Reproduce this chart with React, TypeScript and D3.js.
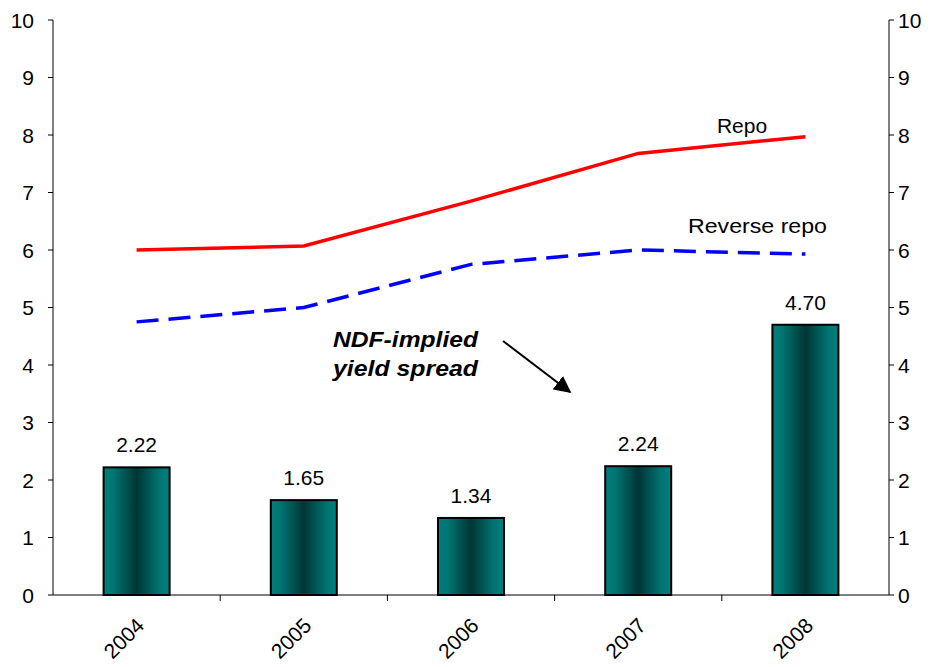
import React from "react";
import * as d3 from "d3";

const years = ["2004", "2005", "2006", "2007", "2008"];
const spread = [2.22, 1.65, 1.34, 2.24, 4.7];
const repo = [6.0, 6.07, 6.85, 7.68, 7.97];
const reverseRepo = [4.75, 5.0, 5.75, 6.0, 5.93];
const yTicks = [0, 1, 2, 3, 4, 5, 6, 7, 8, 9, 10];

const W = 933;
const H = 667;
const left = 53;
const right = 889;
const top = 20;
const bottom = 595;
const FONT = "'Liberation Sans', Arial, sans-serif";

export default function App() {
  const x = d3.scaleBand<string>().domain(years).range([left, right]).paddingInner(0).paddingOuter(0);
  const y = d3.scaleLinear().domain([0, 10]).range([bottom, top]);
  const barW = 66;
  const cx = (d: string) => (x(d) as number) + x.bandwidth() / 2;
  const line = d3
    .line<number>()
    .x((_, i) => cx(years[i]))
    .y((v) => y(v));

  return (
    <svg width={W} height={H} style={{ position: "absolute", left: 0, top: 0, background: "#fff" }}>
      <defs>
        <linearGradient id="barGrad" x1="0" x2="1" y1="0" y2="0">
          <stop offset="0%" stopColor="#007f7c" />
          <stop offset="15%" stopColor="#007572" />
          <stop offset="50%" stopColor="#003535" />
          <stop offset="85%" stopColor="#007572" />
          <stop offset="100%" stopColor="#007f7c" />
        </linearGradient>
        <marker id="arrow" viewBox="0 0 10 10" refX="9" refY="5" markerWidth="8.5" markerHeight="8.5" orient="auto">
          <path d="M0,0 L10,5 L0,10 z" fill="#000" />
        </marker>
      </defs>

      {/* left axis */}
      <line x1={left} x2={left} y1={top} y2={bottom} stroke="#000" strokeWidth={1} />
      {yTicks.map((t) => (
        <g key={"l" + t}>
          <line x1={left - 5} x2={left} y1={y(t)} y2={y(t)} stroke="#000" />
          <text x={34} y={y(t)} dy="0.36em" textAnchor="end" fontFamily={FONT} fontSize={21} fill="#000">
            {t}
          </text>
        </g>
      ))}
      {/* right axis */}
      <line x1={right} x2={right} y1={top} y2={bottom} stroke="#000" strokeWidth={1} />
      {yTicks.map((t) => (
        <g key={"r" + t}>
          <line x1={right} x2={right + 5} y1={y(t)} y2={y(t)} stroke="#000" />
          <text x={898} y={y(t)} dy="0.36em" textAnchor="start" fontFamily={FONT} fontSize={21} fill="#000">
            {t}
          </text>
        </g>
      ))}

      {/* bars */}
      {years.map((yr, i) => (
        <g key={yr}>
          <rect
            x={cx(yr) - barW / 2}
            y={y(spread[i])}
            width={barW}
            height={bottom - y(spread[i])}
            fill="url(#barGrad)"
            stroke="#000"
            strokeWidth={2}
          />
          <text
            x={cx(yr)}
            y={y(spread[i]) - 15}
            textAnchor="middle"
            fontFamily={FONT}
            fontSize={21}
            fill="#000"
          >
            {spread[i].toFixed(2)}
          </text>
        </g>
      ))}

      {/* x axis */}
      <line x1={left} x2={right} y1={bottom} y2={bottom} stroke="#000" strokeWidth={1} />
      {years.slice(1).map((yr) => (
        <line key={"t" + yr} x1={x(yr) as number} x2={x(yr) as number} y1={bottom} y2={bottom + 6} stroke="#000" />
      ))}
      {years.map((yr) => (
        <text
          key={"x" + yr}
          transform={`translate(${cx(yr) + 9},${bottom + 32}) rotate(-45)`}
          textAnchor="end"
          fontFamily={FONT}
          fontSize={21}
          fill="#000"
        >
          {yr}
        </text>
      ))}

      {/* lines */}
      <path d={line(repo) as string} fill="none" stroke="#ff0000" strokeWidth={3.5} />
      <path
        d={line(reverseRepo) as string}
        fill="none"
        stroke="#0000ff"
        strokeWidth={3.5}
        strokeDasharray="22 10"
      />

      {/* annotations */}
      <text x={742} y={133} textAnchor="middle" fontFamily={FONT} fontSize={21} fill="#000">
        Repo
      </text>
      <text x={688} y={233} textLength={139} lengthAdjust="spacingAndGlyphs" fontFamily={FONT} fontSize={21} fill="#000">
        Reverse repo
      </text>
      <text x={333} y={347} textLength={145} lengthAdjust="spacingAndGlyphs" fontFamily={FONT} fontSize={22} fontWeight="bold" fontStyle="italic" fill="#000">
        NDF-implied
      </text>
      <text x={333} y={376} textLength={145} lengthAdjust="spacingAndGlyphs" fontFamily={FONT} fontSize={22} fontWeight="bold" fontStyle="italic" fill="#000">
        yield spread
      </text>
      <line x1={503} y1={341} x2={570} y2={392} stroke="#000" strokeWidth={2} markerEnd="url(#arrow)" />
    </svg>
  );
}
